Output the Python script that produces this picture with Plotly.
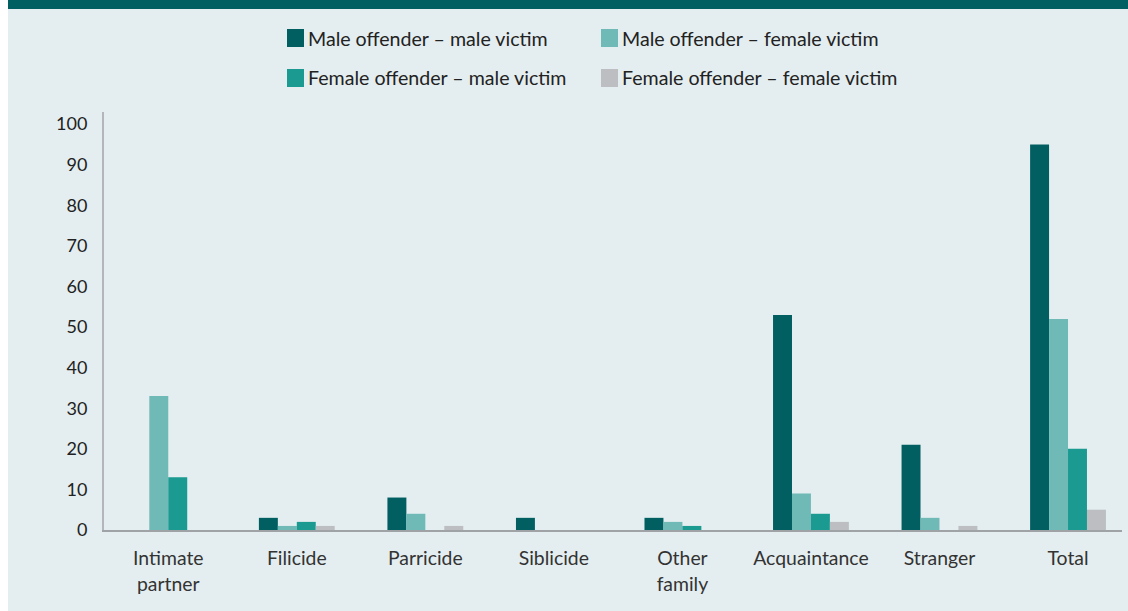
import plotly.graph_objects as go

# Relationship categories and the share (%) for each offender/victim sex pairing
categories = ["Intimate<br>partner", "Filicide", "Parricide", "Siblicide",
              "Other<br>family", "Acquaintance", "Stranger", "Total"]
series_names = ["Male offender – male victim", "Male offender – female victim",
                "Female offender – male victim", "Female offender – female victim"]
male_male = [0, 3, 8, 3, 3, 53, 21, 95]
male_female = [33, 1, 4, 0, 2, 9, 3, 52]
female_male = [13, 2, 0, 0, 1, 4, 0, 20]
female_female = [0, 1, 1, 0, 0, 2, 1, 5]
y_ticks = [0, 10, 20, 30, 40, 50, 60, 70, 80, 90, 100]

colors = ["#015f61", "#6fbab7", "#1a9a90", "#bcbec2"]
series_values = [male_male, male_female, female_male, female_female]

FONT = "Lato"
BG = "#e4eef0"
W, H = 1128, 611
L, R, T, B = 104, 6, 112, 81

fig = go.Figure()
for name, vals, col in zip(series_names, series_values, colors):
    fig.add_trace(go.Bar(
        x=list(range(len(categories))), y=vals, name=name,
        marker=dict(color=col, line=dict(width=0)),
        showlegend=False, hoverinfo="name+y",
    ))

plot_w = W - L - R
plot_h = H - T - B


def px_x(px):
    return (px - L) / plot_w


def px_y(py):
    return (H - B - py) / plot_h


shapes = [
    # light panel background with a thin white strip on the left
    dict(type="rect", xref="paper", yref="paper", layer="below",
         x0=px_x(8), x1=px_x(W + 5), y0=px_y(H + 5), y1=px_y(0),
         fillcolor=BG, line=dict(width=0)),
    # dark header band
    dict(type="rect", xref="paper", yref="paper", layer="below",
         x0=px_x(8), x1=px_x(W + 5), y0=px_y(9), y1=px_y(-5),
         fillcolor="#015f61", line=dict(width=0)),
]

annotations = []
# two-row legend drawn with swatches and labels
legend_pos = [(287, 38), (601, 38), (287, 78), (601, 78)]
for (lx, ly), name, col in zip(legend_pos, series_names, colors):
    shapes.append(dict(type="rect", xref="paper", yref="paper",
                       x0=px_x(lx), x1=px_x(lx + 17),
                       y0=px_y(ly + 9), y1=px_y(ly - 9),
                       fillcolor=col, line=dict(width=0)))
    annotations.append(dict(xref="paper", yref="paper", x=px_x(lx + 19), y=px_y(ly),
                            text=name, showarrow=False, xanchor="left", yanchor="middle",
                            font=dict(family=FONT, size=19.6, color="#222222")))

fig.update_layout(
    width=W, height=H,
    margin=dict(l=L, r=R, t=T, b=B, pad=0),
    paper_bgcolor="white", plot_bgcolor=BG,
    barmode="group", bargap=0.41, bargroupgap=0,
    font=dict(family=FONT, size=18, color="#222222"),
    shapes=shapes, annotations=annotations,
    xaxis=dict(
        range=[-0.5, len(categories) - 0.58],
        tickmode="array", tickvals=list(range(len(categories))), ticktext=categories,
        showgrid=False, zeroline=False, showline=True,
        linecolor="#9fa3a5", linewidth=2, ticks="",
        ticklabelstandoff=10,
        tickfont=dict(family=FONT, size=19.4, color="#333333"),
    ),
    yaxis=dict(
        range=[0, 103], tickmode="array", tickvals=y_ticks,
        showgrid=False, zeroline=False, showline=True,
        linecolor="#b3b7b9", linewidth=2, ticks="",
        ticklabelstandoff=11,
        tickfont=dict(family=FONT, size=18, color="#222222"),
    ),
)

fig.write_html("out.html")
